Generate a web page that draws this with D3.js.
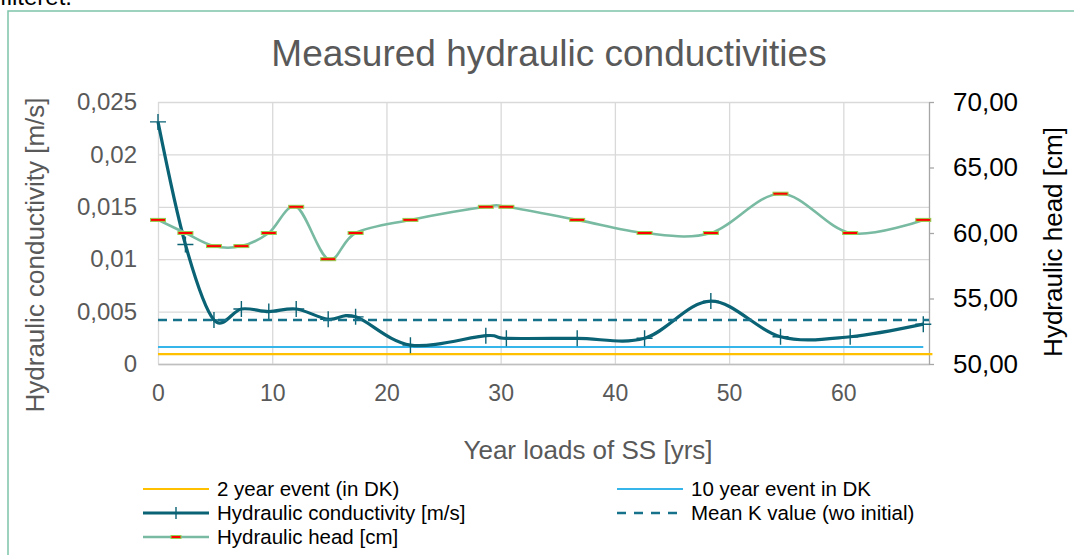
<!DOCTYPE html>
<html>
<head>
<meta charset="utf-8">
<script src="https://cdn.jsdelivr.net/npm/d3@7"></script>
<style>
  html, body { margin: 0; padding: 0; background: #fff; overflow: hidden; }
  svg { display: block; font-family: "Liberation Sans", Arial, sans-serif; }
</style>
</head>
<body>
<svg id="chart" width="1074" height="555"></svg>
<script>
const years = [0, 2.4, 4.9, 7.3, 9.7, 12.1, 14.9, 17.3, 22.1, 28.7, 30.5, 36.7, 42.6, 48.4, 54.5, 60.6, 67.0];
const conductivity = [0.0231, 0.0114, 0.0042, 0.00525, 0.0050, 0.00525, 0.00427, 0.0045, 0.0018, 0.0027, 0.00245, 0.00245, 0.00245, 0.0060, 0.0026, 0.0026, 0.0038];
const head = [61, 60, 59, 59, 60, 62, 58, 60, 61, 62, 62, 61, 60, 60, 63, 60, 61];

// reference lines
const event2yr = [{ x: 0, y: 0.00095 }, { x: 67.8, y: 0.00095 }];
const event10yr = [{ x: 0, y: 0.00162 }, { x: 67, y: 0.00162 }];
const meanK = [{ x: 0, y: 0.0042 }, { x: 67.5, y: 0.0042 }];

const xTicks = [0, 10, 20, 30, 40, 50, 60];
const kTicks = [0, 0.005, 0.01, 0.015, 0.02, 0.025];
const headTicks = [50, 55, 60, 65, 70];

const legendItems = [
  { label: '2 year event (in DK)', key: 'y2', col: 0, row: 0 },
  { label: '10 year event in DK', key: 'y10', col: 1, row: 0 },
  { label: 'Hydraulic conductivity [m/s]', key: 'k', col: 0, row: 1 },
  { label: 'Mean K value (wo initial)', key: 'mean', col: 1, row: 1 },
  { label: 'Hydraulic head [cm]', key: 'head', col: 0, row: 2 },
];

const colors = {
  y2: '#FFC000',
  y10: '#35B5EA',
  k: '#0A6275',
  mean: '#16728A',
  head: '#79BBA2',
  grid: '#D9D9D9',
  frame: '#7DC4AA',
};

const locale = d3.formatLocale({ decimal: ',', thousands: '.', grouping: [3], currency: ['', ''] });

const margin = { top: 102, left: 158, right: 1074 - 929, bottom: 555 - 364 };
const width = 1074 - margin.left - margin.right;
const height = 555 - margin.top - margin.bottom;

const svg = d3.select('#chart');

// frame of the chart object and the clipped text line above it
svg.append('text')
  .attr('x', 0).attr('y', 5)
  .attr('font-size', 24).attr('fill', '#000')
  .text('filteret.');
svg.append('path')
  .attr('d', 'M8,555 V11 H1074')
  .attr('fill', 'none')
  .attr('stroke', colors.frame)
  .attr('stroke-width', 1.5);

const xScale = d3.scaleLinear().domain([0, 67.5]).range([0, width]);
const yScale = d3.scaleLinear().domain([0, 0.025]).range([height, 0]);
const y2Scale = d3.scaleLinear().domain([50, 70]).range([height, 0]);

const g = svg.append('g').attr('transform', `translate(${margin.left},${margin.top})`);

// gridlines
g.append('g')
  .call(d3.axisLeft(yScale).tickValues(kTicks).tickSize(-width).tickFormat(''))
  .call((a) => a.select('.domain').remove())
  .selectAll('line').attr('stroke', colors.grid).attr('stroke-width', 1.3);
g.append('g')
  .attr('transform', `translate(0,${height})`)
  .call(d3.axisBottom(xScale).tickValues(xTicks).tickSize(-height).tickFormat(''))
  .call((a) => a.select('.domain').remove())
  .selectAll('line').attr('stroke', colors.grid).attr('stroke-width', 1.3);

// x axis
const xAxis = g.append('g')
  .attr('transform', `translate(0,${height})`)
  .call(d3.axisBottom(xScale).tickValues(xTicks).tickSize(0).tickPadding(21));
xAxis.select('.domain').attr('stroke', '#BFBFBF').attr('stroke-width', 1.3);
xAxis.selectAll('text').attr('font-size', 23).attr('fill', '#595959');

// left axis
const yAxis = g.append('g')
  .call(d3.axisLeft(yScale).tickValues(kTicks).tickSize(0).tickPadding(21).tickFormat(locale.format('~g')));
yAxis.select('.domain').remove();
yAxis.selectAll('text').attr('font-size', 24).attr('fill', '#595959');

// right axis
const y2Axis = g.append('g')
  .attr('transform', `translate(${width},0)`)
  .call(d3.axisRight(y2Scale).tickValues(headTicks).tickSizeOuter(0).tickSizeInner(5).tickPadding(19).tickFormat(locale.format('.2f')));
y2Axis.select('.domain').attr('stroke', '#A6A6A6').attr('stroke-width', 1.3);
y2Axis.selectAll('line').attr('stroke', '#A6A6A6').attr('stroke-width', 1.3);
y2Axis.selectAll('text').attr('font-size', 26).attr('fill', '#000');

// axis titles and chart title
svg.append('text')
  .attr('x', 549).attr('y', 66)
  .attr('text-anchor', 'middle')
  .attr('font-size', 37).attr('fill', '#595959')
  .text('Measured hydraulic conductivities');
svg.append('text')
  .attr('x', 588).attr('y', 459)
  .attr('text-anchor', 'middle')
  .attr('font-size', 26).attr('fill', '#595959')
  .text('Year loads of SS [yrs]');
svg.append('text')
  .attr('transform', 'translate(44,255) rotate(-90)')
  .attr('text-anchor', 'middle')
  .attr('font-size', 26).attr('fill', '#595959')
  .text('Hydraulic conductivity [m/s]');
svg.append('text')
  .attr('transform', 'translate(1062,242) rotate(-90)')
  .attr('text-anchor', 'middle')
  .attr('font-size', 26).attr('fill', '#000')
  .text('Hydraulic head [cm]');

// series
const flat = d3.line().x((d) => xScale(d.x)).y((d) => yScale(d.y));

g.append('path').datum(event2yr)
  .attr('d', flat).attr('fill', 'none')
  .attr('stroke', colors.y2).attr('stroke-width', 2.2);
g.append('path').datum(event10yr)
  .attr('d', flat).attr('fill', 'none')
  .attr('stroke', colors.y10).attr('stroke-width', 2);

const kData = years.map((x, i) => ({ x: x, y: conductivity[i] }));
const headData = years.map((x, i) => ({ x: x, y: head[i] }));

const smoothK = d3.line()
  .x((d) => xScale(d.x)).y((d) => yScale(d.y))
  .curve(d3.curveCardinal.tension(0));
g.append('path').datum(kData)
  .attr('d', smoothK).attr('fill', 'none')
  .attr('stroke', colors.k).attr('stroke-width', 3.2)
  .attr('stroke-linejoin', 'round');
g.selectAll('.kmark').data(kData).enter()
  .append('path')
  .attr('class', 'kmark')
  .attr('d', (d) => {
    const cx = xScale(d.x), cy = yScale(d.y);
    return `M${cx - 8},${cy}H${cx + 8}M${cx},${cy - 8}V${cy + 8}`;
  })
  .attr('stroke', colors.k).attr('stroke-width', 1.4);

g.append('path').datum(meanK)
  .attr('d', flat).attr('fill', 'none')
  .attr('stroke', colors.mean).attr('stroke-width', 2.6)
  .attr('stroke-dasharray', '9,6');

const smoothHead = d3.line()
  .x((d) => xScale(d.x)).y((d) => y2Scale(d.y))
  .curve(d3.curveCardinal.tension(0));
g.append('path').datum(headData)
  .attr('d', smoothHead).attr('fill', 'none')
  .attr('stroke', colors.head).attr('stroke-width', 2.6);
g.selectAll('.hmark').data(headData).enter()
  .append('rect')
  .attr('class', 'hmark')
  .attr('x', (d) => xScale(d.x) - 7.5)
  .attr('y', (d) => y2Scale(d.y) - 1.5)
  .attr('width', 15).attr('height', 3)
  .attr('fill', '#FF0000')
  .attr('stroke', '#92D050').attr('stroke-width', 1);

// legend
const legend = svg.append('g');
const colX = [143, 617];
const rowY = [489, 513, 537];
const item = legend.selectAll('g').data(legendItems).enter()
  .append('g')
  .attr('transform', (d) => `translate(${colX[d.col]},${rowY[d.row]})`);

item.append('line')
  .attr('x1', 0).attr('x2', 66).attr('y1', 0).attr('y2', 0)
  .attr('stroke', (d) => colors[d.key])
  .attr('stroke-width', (d) => (d.key === 'k' ? 3.2 : d.key === 'y2' || d.key === 'y10' ? 2 : 2.6))
  .attr('stroke-dasharray', (d) => (d.key === 'mean' ? '9,8' : null));
item.filter((d) => d.key === 'k').append('path')
  .attr('d', 'M28,0H38M33,-6V6')
  .attr('stroke', colors.k).attr('stroke-width', 1.4);
item.filter((d) => d.key === 'head').append('rect')
  .attr('x', 28).attr('y', -1.5).attr('width', 10).attr('height', 3)
  .attr('fill', '#FF0000').attr('stroke', '#92D050').attr('stroke-width', 1);
item.append('text')
  .attr('x', 74).attr('y', 0).attr('dy', '0.35em')
  .attr('font-size', 20.5).attr('fill', '#000')
  .text((d) => d.label);
</script>
</body>
</html>
